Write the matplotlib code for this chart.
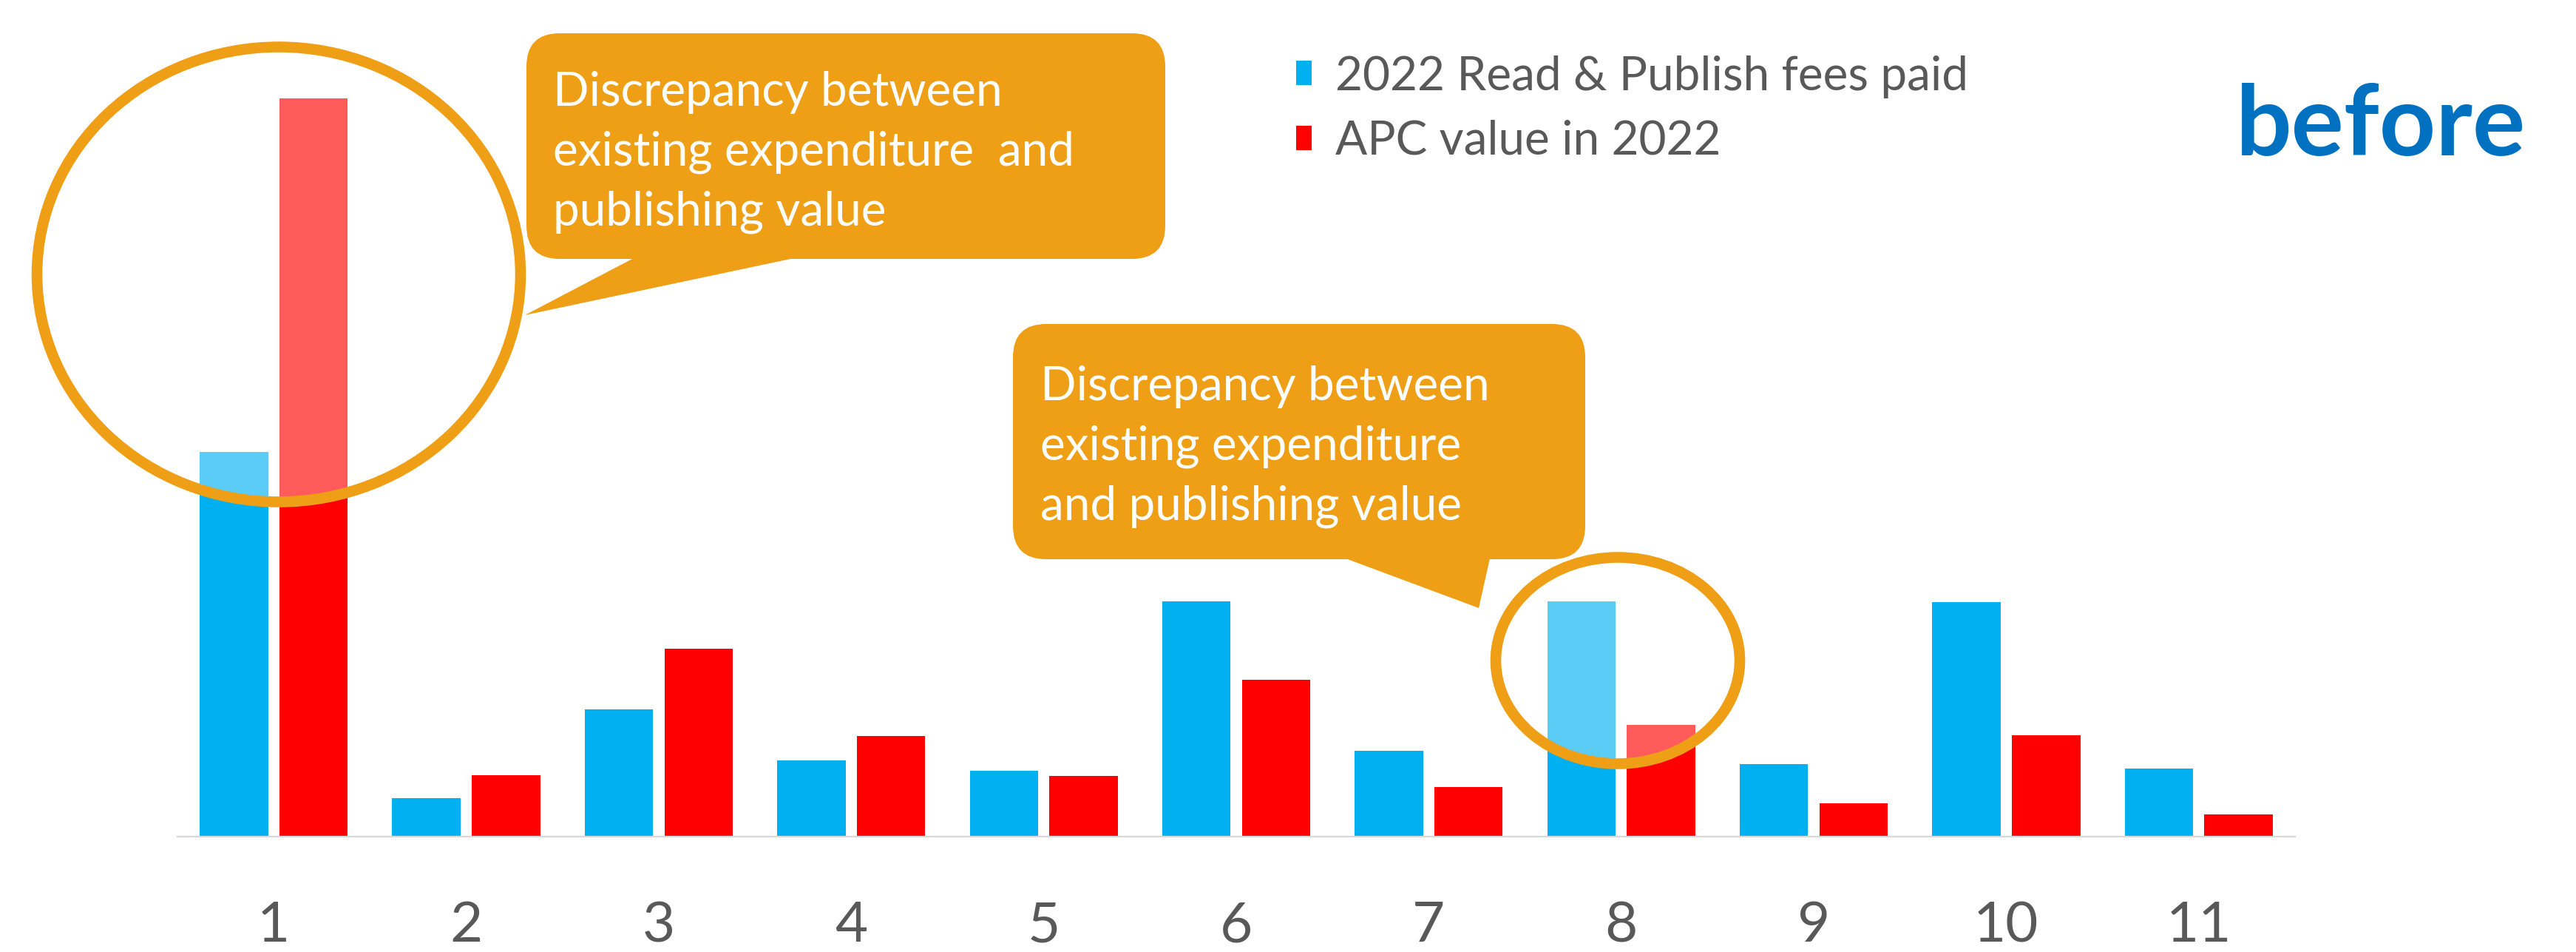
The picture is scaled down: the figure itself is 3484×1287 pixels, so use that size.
import matplotlib.pyplot as plt
import numpy as np
from matplotlib.patches import Ellipse, FancyBboxPatch, Polygon

plt.rcParams['font.family'] = ['Lato', 'DejaVu Sans']

# Data (relative amounts)
categories = ['1', '2', '3', '4', '5', '6', '7', '8', '9', '10', '11']
read_publish_fees = [520, 52, 172, 103, 89, 318, 116, 318, 98, 317, 92]
apc_value = [998, 83, 254, 136, 82, 212, 67, 151, 45, 137, 30]
series_labels = ['2022 Read & Publish fees paid', 'APC value in 2022']
callout_texts = ['Discrepancy between\nexisting expenditure  and\npublishing value',
                 'Discrepancy between\nexisting expenditure\nand publishing value']

W, H = 3484, 1287
BLUE, RED, GOLD, GREY = '#00B0F0', '#FF0000', '#EE9F15', '#595959'

fig = plt.figure(figsize=(W / 100, H / 100), dpi=100)

# Main bar chart: baseline at y=1131px, x from 240px, 1 unit = 1px vertically
ax = fig.add_axes([240 / W, (H - 1131) / H, 2864 / W, 1031 / H])
x = np.arange(1, len(categories) + 1)
width, offset = 0.355, 0.207
ax.bar(x - offset, read_publish_fees, width, color=BLUE, label=series_labels[0])
ax.bar(x + offset, apc_value, width, color=RED, label=series_labels[1])

ax.set_xlim(0.5, len(categories) + 0.5)
ax.set_ylim(0, 1031)
ax.set_xticks(x)
ax.set_xticklabels(categories, fontsize=55, color=GREY)
ax.tick_params(axis='x', length=0, pad=62)
ax.set_yticks([])
for side in ['left', 'right', 'top']:
    ax.spines[side].set_visible(False)
ax.spines['bottom'].set_color('#D9D9D9')
ax.spines['bottom'].set_linewidth(1.6)

leg = ax.legend(loc='upper left', bbox_to_anchor=((1727 - 240) / 2864, (1131 - 49) / 1031),
                frameon=False, fontsize=46, handlelength=0.34, handleheight=0.42,
                handletextpad=0.5, labelspacing=0.46, borderaxespad=0)
for t in leg.get_texts():
    t.set_color(GREY)

# Overlay in pixel coordinates for annotations
ov = fig.add_axes([0, 0, 1, 1], zorder=5)
ov.set_xlim(0, W)
ov.set_ylim(H, 0)
ov.axis('off')
ov.patch.set_alpha(0)

# Highlight ellipses (white haze inside, gold ring)
for cx, cy, ew, eh in [(377, 371, 654, 615), (2188, 893, 330, 279)]:
    ov.add_patch(Ellipse((cx, cy), ew, eh, facecolor=(1, 1, 1, 0.36),
                         edgecolor=GOLD, linewidth=10.5))

# Callout bubbles (text anchored at the baseline of the last line)
bubbles = [
    dict(box=(712, 45, 864, 305), tail=[(857, 349), (1074, 349), (710, 426)],
         text_xy=(748, 305)),
    dict(box=(1370, 438, 774, 318), tail=[(1820, 755), (2015, 755), (2000, 822)],
         text_xy=(1407, 703)),
]
for b, txt in zip(bubbles, callout_texts):
    bx, by, bw, bh = b['box']
    ov.add_patch(FancyBboxPatch((bx, by), bw, bh, boxstyle='round,pad=0,rounding_size=45',
                                facecolor=GOLD, edgecolor='none'))
    ov.add_patch(Polygon(b['tail'], closed=True, facecolor=GOLD, edgecolor='none'))
    ov.text(b['text_xy'][0], b['text_xy'][1], txt, color='white', fontsize=46,
            ha='left', va='baseline', linespacing=1.48)

ov.text(3024, 210, 'before', color='#0070C0', fontsize=96, fontweight='bold',
        ha='left', va='baseline')

fig.savefig('out.png', dpi=100)
